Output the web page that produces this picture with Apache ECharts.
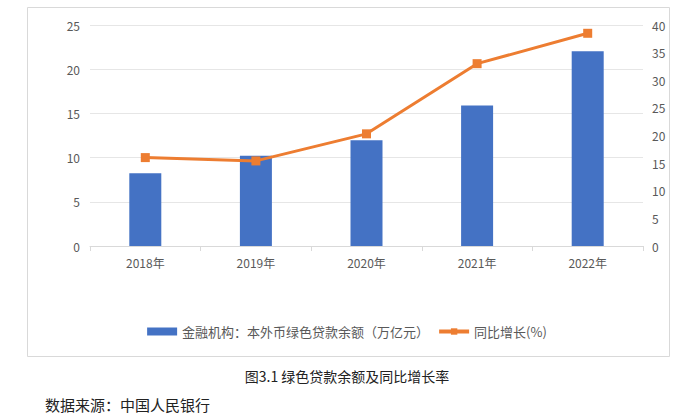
<!DOCTYPE html>
<html>
<head>
<meta charset="utf-8">
<script src="https://cdn.jsdelivr.net/npm/echarts@6/dist/echarts.min.js"></script>
<style>
html,body{margin:0;padding:0;background:#fff;}
#c{width:694px;height:418px;}
</style>
</head>
<body>
<div id="c"></div>
<script>
const categories = ['2018年','2019年','2020年','2021年','2022年'];
const loanBalance = [8.23, 10.22, 11.95, 15.9, 22.03];
const yoyGrowth = [16.0, 15.4, 20.3, 33.0, 38.5];
const barName = '金融机构：本外币绿色贷款余额（万亿元）';
const lineName = '同比增长(%)';
const captionText = '图3.1 绿色贷款余额及同比增长率';
const sourceText = '数据来源：中国人民银行';

const chart = echarts.init(document.getElementById('c'), null, {renderer:'svg'});
const fontFam = '"Noto Sans CJK SC", "Noto Sans", sans-serif';
chart.setOption({
  backgroundColor:'#fff',
  animation:false,
  textStyle:{fontFamily:fontFam},
  graphic:[
    {type:'rect', shape:{x:27.5,y:7.5,width:642,height:349}, style:{fill:'none',stroke:'#d9d9d9',lineWidth:1}, z:-1},
    {type:'text', left:'center', top:369, style:{text:captionText, fill:'#222', font:'14px ' + fontFam}},
    {type:'text', left:45, top:397, style:{text:sourceText, fill:'#222', font:'15px ' + fontFam}}
  ],
  grid:{left:90, right:51, top:25, bottom:172},
  legend:{
    bottom:75, left:'center', itemGap:8, itemWidth:30, itemHeight:8,
    textStyle:{color:'#595959', fontSize:13, fontFamily:fontFam},
    lineStyle:{width:4},
    data:[{name:barName, icon:'rect'}, {name:lineName}]
  },
  xAxis:{
    type:'category', data:categories,
    axisLine:{lineStyle:{color:'#d9d9d9'}},
    axisTick:{show:true, length:5, lineStyle:{color:'#d9d9d9'}},
    axisLabel:{color:'#595959', fontSize:12, margin:10}
  },
  yAxis:[
    {type:'value', min:0, max:25, interval:5,
     axisLine:{show:false}, axisTick:{show:false},
     splitLine:{lineStyle:{color:'#e6e6e6'}},
     axisLabel:{color:'#595959', fontSize:12, margin:10}},
    {type:'value', min:0, max:40, interval:5, position:'right',
     axisLine:{show:false}, axisTick:{show:false}, splitLine:{show:false},
     axisLabel:{color:'#595959', fontSize:12, margin:9}}
  ],
  series:[
    {name:barName, type:'bar', data:loanBalance, barWidth:32,
     itemStyle:{color:'#4472C4'}},
    {name:lineName, type:'line', yAxisIndex:1, data:yoyGrowth,
     symbol:'rect', symbolSize:9,
     lineStyle:{color:'#ED7D31', width:3},
     itemStyle:{color:'#ED7D31'}}
  ]
});
</script>
</body>
</html>
